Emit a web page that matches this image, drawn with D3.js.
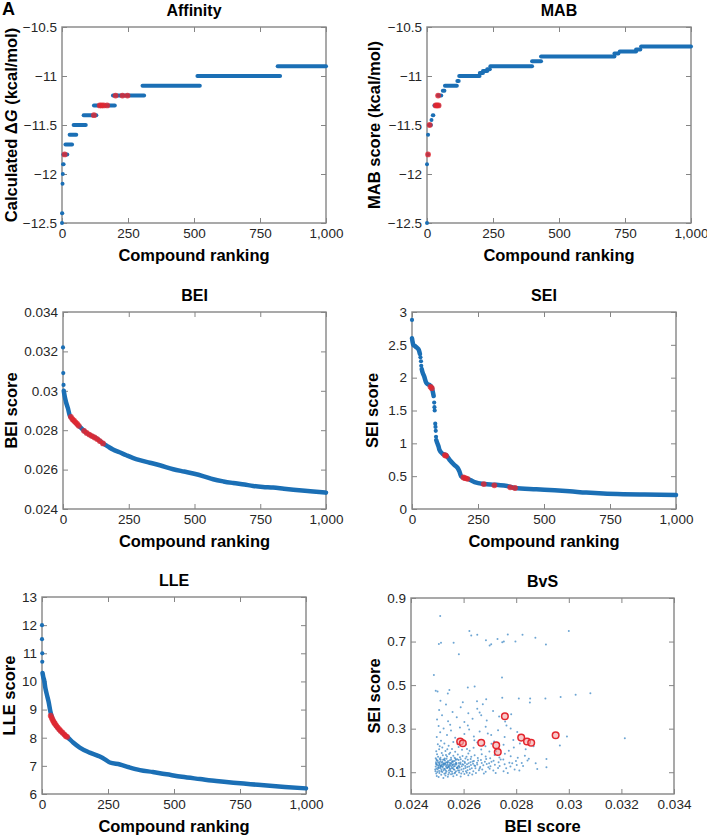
<!DOCTYPE html>
<html>
<head>
<meta charset="utf-8">
<script src="https://cdn.jsdelivr.net/npm/d3@7"></script>
<style>
  body { margin: 0; background: #fff; }
  text { font-family: Arial, "Liberation Sans", Helvetica, sans-serif; }
</style>
</head>
<body>
<div id="chart"></div>
<script>
// ---- tick values
var rankTicks = [0, 250, 500, 750, 1000];
var dgTicks = [-12.5, -12, -11.5, -11, -10.5];
var beiTicks = [0.024, 0.026, 0.028, 0.030, 0.032, 0.034];
var seiTicks = [0, 0.5, 1, 1.5, 2, 2.5, 3];
var lleTicks = [6, 7, 8, 9, 10, 11, 12, 13];
var bvsSeiTicks = [0.1, 0.3, 0.5, 0.7, 0.9];

// ---- Affinity: [fromRank, toRank, dG]
var affinitySteps = [
  [0, 0, -12.5], [0, 1, -12.4], [2, 2, -12.1], [3, 3, -12.0], [4, 6, -11.9],
  [5, 20, -11.8], [13, 38, -11.7], [29, 54, -11.6], [44, 90, -11.5],
  [82, 130, -11.4], [121, 200, -11.3], [193, 311, -11.2], [305, 522, -11.1],
  [513, 826, -11.0], [817, 1000, -10.9]
];
var affinityHits = [[10, -11.8], [121, -11.4], [143, -11.3], [150, -11.3], [158, -11.3],
  [171, -11.3], [203, -11.2], [229, -11.2], [248, -11.2]];

// ---- MAB: [fromRank, toRank, score]
var mabSteps = [
  [0, 0, -12.5], [0, 0, -11.9], [4, 4, -11.8], [4, 4, -11.6], [8, 15, -11.5],
  [17, 17, -11.45], [22, 24, -11.4], [28, 45, -11.3], [42, 54, -11.2],
  [60, 66, -11.15], [68, 113, -11.1], [115, 120, -11.05], [122, 199, -11.0],
  [200, 212, -10.97], [212, 228, -10.95], [228, 238, -10.93], [240, 398, -10.9],
  [398, 432, -10.85], [432, 710, -10.8], [710, 725, -10.77], [730, 792, -10.75],
  [792, 808, -10.73], [811, 1000, -10.7]
];
var mabHits = [[4, -11.8], [10, -11.5], [33, -11.3], [38, -11.3], [44, -11.3], [42, -11.2]];

// ---- BEI: [rank, score]
var beiCurve = [[3, 0.0300], [6, 0.02975], [12, 0.0294], [19, 0.0291], [25, 0.02877],
  [32, 0.02862], [38, 0.02852], [50, 0.02835], [63, 0.02818], [76, 0.02802],
  [89, 0.02787], [108, 0.02772], [127, 0.02758], [152, 0.02733], [170, 0.02718],
  [190, 0.02702], [215, 0.02688], [241, 0.02673], [265, 0.0266], [292, 0.02648],
  [330, 0.02635], [368, 0.02622], [419, 0.02602], [460, 0.0259], [495, 0.0258],
  [535, 0.02566], [571, 0.02551], [610, 0.0254], [647, 0.02532], [690, 0.02524],
  [723, 0.02517], [760, 0.02512], [799, 0.02509], [840, 0.02503], [876, 0.02498],
  [940, 0.0249], [1000, 0.02483]];
var beiDots = [[0, 0.0322], [1, 0.0309], [2, 0.0303]];
var beiHits = [[30, 0.02868], [36, 0.02856], [42, 0.02848], [48, 0.0284], [54, 0.02832],
  [60, 0.02822], [80, 0.02797], [90, 0.02786], [100, 0.02778], [110, 0.0277],
  [120, 0.02763], [130, 0.02755], [140, 0.02745], [152, 0.02733]];

// ---- SEI: [rank, score], null = gap between runs
var seiCurve = [[0, 2.6], [2, 2.55], [5, 2.5], [12, 2.48], [20, 2.45], [26, 2.42], [30, 2.36], null,
  [37, 2.13], [40, 2.08], [46, 2.02], [53, 1.93], [60, 1.9], [66, 1.89], [75, 1.85],
  [78, 1.8], [82, 1.72], null,
  [92, 1.05], [96, 1.0], [100, 0.96], [104, 0.9], [116, 0.84], [129, 0.82], [142, 0.75],
  [161, 0.67], [172, 0.63], [180, 0.57], [186, 0.5], [199, 0.47], [211, 0.46],
  [237, 0.41], [275, 0.38], [313, 0.37], [370, 0.34], [389, 0.32], [471, 0.30],
  [540, 0.285], [597, 0.27], [660, 0.25], [724, 0.235], [800, 0.225], [880, 0.22],
  [1000, 0.215]];
var seiDots = [[0, 2.88], [32, 2.31], [34, 2.25], [35, 2.18], [84, 1.62], [85, 1.55],
  [86, 1.5], [88, 1.3], [89, 1.25], [90, 1.19], [91, 1.1]];
var seiHits = [[70, 1.86], [75, 1.84], [125, 0.82], [129, 0.81], [195, 0.48], [202, 0.47],
  [210, 0.46], [272, 0.38], [312, 0.36], [372, 0.33], [390, 0.32]];

// ---- LLE: [rank, score]
var lleCurve = [[2, 10.3], [5, 10.15], [8, 10.05], [13, 9.75], [19, 9.51], [25, 9.28],
  [32, 8.92], [39, 8.69], [48, 8.51], [61, 8.33], [80, 8.15], [99, 8.0], [118, 7.83],
  [143, 7.65], [181, 7.47], [219, 7.33], [240, 7.22], [257, 7.12], [295, 7.05],
  [330, 6.95], [371, 6.85], [420, 6.78], [472, 6.70], [530, 6.61], [599, 6.53],
  [660, 6.46], [725, 6.40], [790, 6.35], [852, 6.30], [920, 6.25], [1000, 6.20]];
var lleDots = [[0, 12.0], [0, 11.5], [1, 11.0], [1, 10.7]];
var lleHits = [[33, 8.78], [37, 8.7], [41, 8.62], [45, 8.55], [49, 8.5], [54, 8.43],
  [59, 8.37], [65, 8.3], [71, 8.24], [78, 8.18], [85, 8.11], [90, 8.06], [95, 8.03]];

// ---- BvS scatter: [BEI, SEI]
var bvsPoints = [
  [0.02498,0.083],[0.02505,0.078],[0.02515,0.088],[0.02523,0.074],[0.02531,0.085],[0.02540,0.079],
  [0.02552,0.091],[0.02561,0.082],[0.02574,0.087],[0.02589,0.080],[0.02603,0.092],[0.02618,0.086],
  [0.02496,0.094],[0.02508,0.097],[0.02527,0.093],[0.02545,0.098],[0.02566,0.095],[0.02583,0.099],
  [0.02612,0.098],[0.02633,0.089],
  [0.02493,0.104],[0.02501,0.112],[0.02507,0.106],[0.02512,0.118],[0.02519,0.101],[0.02524,0.109],
  [0.02529,0.115],[0.02535,0.103],[0.02538,0.121],[0.02544,0.108],[0.02549,0.114],[0.02556,0.102],
  [0.02559,0.119],[0.02565,0.111],[0.02571,0.105],[0.02578,0.117],[0.02584,0.108],[0.02592,0.113],
  [0.02598,0.103],[0.02607,0.119],[0.02615,0.109],[0.02624,0.114],[0.02637,0.104],[0.02645,0.118],
  [0.02658,0.109],[0.02671,0.113],[0.02684,0.102],[0.02699,0.116],[0.02713,0.108],[0.02731,0.119],
  [0.02752,0.105],[0.02768,0.096],[0.02794,0.112],[0.02497,0.117],[0.02503,0.121],[0.02516,0.111],
  [0.02532,0.108],[0.02547,0.117],[0.02562,0.114],[0.02575,0.121],
  [0.02494,0.126],[0.02499,0.133],[0.02504,0.128],[0.02509,0.138],[0.02511,0.124],[0.02514,0.131],
  [0.02518,0.136],[0.02521,0.127],[0.02525,0.133],[0.02528,0.139],[0.02533,0.125],[0.02536,0.131],
  [0.02539,0.136],[0.02543,0.128],[0.02546,0.134],[0.02551,0.139],[0.02554,0.126],[0.02558,0.132],
  [0.02563,0.137],[0.02567,0.129],[0.02572,0.135],[0.02577,0.124],[0.02581,0.131],[0.02587,0.138],
  [0.02593,0.127],[0.02599,0.134],[0.02606,0.129],[0.02613,0.137],[0.02621,0.126],[0.02628,0.133],
  [0.02636,0.139],[0.02644,0.128],[0.02652,0.135],[0.02663,0.124],[0.02675,0.132],[0.02688,0.138],
  [0.02702,0.127],[0.02719,0.134],[0.02737,0.129],[0.02756,0.137],[0.02778,0.126],[0.02802,0.133],
  [0.02826,0.128],[0.02497,0.137],[0.02507,0.133],[0.02516,0.127],[0.02523,0.138],[0.02531,0.134],
  [0.02541,0.124],[0.02549,0.131],[0.02557,0.135],[0.02569,0.138],[0.02583,0.126],
  [0.02495,0.146],[0.02502,0.152],[0.02508,0.143],[0.02513,0.157],[0.02519,0.148],[0.02524,0.141],
  [0.02529,0.154],[0.02534,0.146],[0.02541,0.151],[0.02547,0.143],[0.02553,0.158],[0.02559,0.147],
  [0.02566,0.152],[0.02573,0.141],[0.02581,0.156],[0.02588,0.145],[0.02597,0.151],[0.02605,0.142],
  [0.02616,0.157],[0.02626,0.146],[0.02639,0.152],[0.02651,0.143],[0.02666,0.156],[0.02681,0.148],
  [0.02697,0.141],[0.02714,0.153],[0.02733,0.146],[0.02751,0.158],[0.02774,0.144],[0.02799,0.151],
  [0.02821,0.142],[0.02498,0.155],[0.02511,0.149],[0.02526,0.158],[0.02538,0.144],[0.02556,0.149],
  [0.02571,0.157],
  [0.02494,0.164],[0.02503,0.171],[0.02512,0.166],[0.02521,0.178],[0.02528,0.163],[0.02537,0.172],
  [0.02545,0.184],[0.02552,0.167],[0.02561,0.176],[0.02569,0.162],[0.02578,0.181],[0.02586,0.169],
  [0.02596,0.174],[0.02607,0.163],[0.02618,0.186],[0.02629,0.171],[0.02642,0.178],[0.02654,0.165],
  [0.02669,0.183],[0.02684,0.172],[0.02701,0.164],[0.02718,0.179],[0.02736,0.168],[0.02757,0.185],
  [0.02779,0.173],[0.02806,0.166],[0.02833,0.176],[0.02499,0.183],[0.02517,0.188],[0.02533,0.179],
  [0.02549,0.189],
  [0.02492,0.112],[0.02495,0.139],[0.02497,0.158],[0.02500,0.101],[0.02503,0.143],[0.02506,0.119],
  [0.02509,0.161],[0.02512,0.129],[0.02515,0.104],[0.02517,0.145],[0.02520,0.122],[0.02522,0.157],
  [0.02526,0.116],[0.02530,0.141],[0.02532,0.097],[0.02535,0.162],[0.02537,0.119],[0.02540,0.146],
  [0.02542,0.089],[0.02545,0.124],[0.02548,0.155],[0.02550,0.106],[0.02553,0.142],[0.02555,0.118],
  [0.02558,0.093],[0.02560,0.151],[0.02563,0.126],[0.02566,0.167],[0.02568,0.099],[0.02571,0.144],
  [0.02574,0.119],[0.02576,0.160],[0.02579,0.108],[0.02582,0.142],[0.02585,0.122],[0.02589,0.159],
  [0.02591,0.094],[0.02595,0.137],[0.02600,0.116],[0.02604,0.148],[0.02609,0.105],[0.02611,0.171],
  [0.02614,0.124],[0.02619,0.141],[0.02623,0.096],[0.02627,0.161],[0.02631,0.118],[0.02634,0.149],
  [0.02641,0.131],[0.02647,0.097],[0.02655,0.154],[0.02661,0.117],[0.02669,0.142],[0.02677,0.094],
  [0.02686,0.161],[0.02694,0.123],[0.02706,0.148],[0.02722,0.097],[0.02741,0.158],[0.02762,0.118],
  [0.02785,0.141],[0.02812,0.108],[0.02848,0.162],[0.02724,0.196],[0.02673,0.225],[0.02613,0.207],
  [0.02577,0.228],[0.02538,0.206],[0.02509,0.219],
  [0.02496,0.196],[0.02507,0.205],[0.02519,0.213],[0.02531,0.198],[0.02543,0.221],[0.02556,0.207],
  [0.02568,0.194],[0.02581,0.216],[0.02594,0.203],[0.02609,0.227],[0.02623,0.199],[0.02638,0.212],
  [0.02652,0.236],[0.02667,0.204],[0.02683,0.219],[0.02698,0.195],[0.02716,0.241],[0.02734,0.208],
  [0.02752,0.226],[0.02772,0.199],[0.02791,0.214],[0.02814,0.232],[0.02836,0.205],[0.02502,0.228],
  [0.02514,0.244],[0.02527,0.232],[0.02561,0.239],[0.02596,0.245],[0.02641,0.247],[0.02706,0.231],
  [0.02789,0.248],[0.02866,0.219],
  [0.02498,0.262],[0.02511,0.283],[0.02524,0.301],[0.02537,0.271],[0.02552,0.292],[0.02568,0.258],
  [0.02586,0.305],[0.02603,0.276],[0.02621,0.296],[0.02639,0.264],[0.02661,0.287],[0.02684,0.309],
  [0.02705,0.271],[0.02731,0.293],[0.02756,0.262],[0.02779,0.301],[0.02804,0.285],[0.02505,0.312],
  [0.02549,0.318],[0.02616,0.315],[0.02692,0.278],[0.02763,0.314],
  [0.02499,0.342],[0.02507,0.386],[0.02518,0.362],[0.02533,0.411],[0.02541,0.334],[0.02558,0.377],
  [0.02574,0.352],[0.02589,0.398],[0.02603,0.331],[0.02618,0.371],[0.02634,0.346],[0.02652,0.392],
  [0.02667,0.362],[0.02688,0.337],[0.02712,0.381],[0.02735,0.356],[0.02758,0.333],[0.02781,0.366],
  [0.02512,0.428],[0.02597,0.421],[0.02673,0.412],[0.02747,0.442],
  [0.02487,0.546],[0.02494,0.474],[0.02501,0.471],[0.02546,0.478],[0.0254,0.461],[0.02616,0.489],
  [0.02642,0.494],[0.02651,0.426],[0.02686,0.435],[0.02661,0.374],[0.0281,0.438],[0.02853,0.438],
  [0.02852,0.42],[0.02911,0.438],[0.02746,0.535],[0.02969,0.445],[0.03026,0.456],[0.03082,0.463],
  [0.02511,0.817],[0.02506,0.689],[0.02514,0.694],[0.02562,0.694],[0.02582,0.642],[0.02622,0.749],
  [0.02629,0.728],[0.02652,0.731],[0.02685,0.706],[0.02699,0.682],[0.02705,0.688],[0.02729,0.712],
  [0.02747,0.697],[0.02753,0.700],[0.02768,0.732],[0.02797,0.700],[0.02824,0.731],[0.02873,0.718],
  [0.02913,0.686],[0.0300,0.748],
  [0.03213,0.256],[0.02993,0.264],[0.02966,0.223],[0.02915,0.123],[0.02915,0.161],[0.02874,0.141],
  [0.0288,0.115],[0.02843,0.154]
];
var bvsHits = [[0.02587,0.241],[0.02597,0.233],[0.02667,0.235],[0.02724,0.224],[0.02730,0.193],
  [0.02757,0.357],[0.02819,0.259],[0.02841,0.241],[0.02857,0.235],[0.02950,0.270]];

// ---- drawing
var W = 707, H = 836;
var blue = "#1b6fb5", red = "#e3262e", frameColor = "#858585", ink = "#262626";

var svg = d3.select("#chart").append("svg")
    .attr("width", W)
    .attr("height", H);

var fmtRank = d3.format(",");
var fmtNum = function(d) { return d3.format("")(+d.toFixed(3)); };

function panel(o) {
  var x = d3.scaleLinear().domain(o.xDomain).range([o.l, o.r]);
  var y = d3.scaleLinear().domain(o.yDomain).range([o.b, o.t]);
  var g = svg.append("g");

  // inward ticks on all four sides
  var axes = [
    [d3.axisBottom(x).tickValues(o.xTicks).tickFormat(o.xFmt), "translate(0," + o.b + ")", true],
    [d3.axisTop(x).tickValues(o.xTicks).tickFormat(""), "translate(0," + o.t + ")", false],
    [d3.axisLeft(y).tickValues(o.yTicks).tickFormat(o.yFmt), "translate(" + o.l + ",0)", true],
    [d3.axisRight(y).tickValues(o.yTicks).tickFormat(""), "translate(" + o.r + ",0)", false]
  ];
  axes.forEach(function(a) {
    var ax = g.append("g")
        .attr("transform", a[1])
        .call(a[0].tickSizeInner(-5).tickSizeOuter(0).tickPadding(a[2] ? 5 : 0));
    ax.select(".domain").remove();
    ax.selectAll("line").attr("stroke", frameColor);
    ax.selectAll("text").attr("fill", ink).style("font-size", "13.5px");
  });

  g.append("rect")
      .attr("x", o.l).attr("y", o.t)
      .attr("width", o.r - o.l).attr("height", o.b - o.t)
      .attr("fill", "none")
      .attr("stroke", frameColor)
      .attr("stroke-width", 1.4);

  g.append("text")
      .attr("x", (o.l + o.r) / 2).attr("y", o.t - 11)
      .attr("text-anchor", "middle")
      .style("font-size", "16px").style("font-weight", "bold")
      .text(o.title);

  g.append("text")
      .attr("x", (o.l + o.r) / 2).attr("y", o.b + 38)
      .attr("text-anchor", "middle")
      .style("font-size", "16.5px").style("font-weight", "bold")
      .text(o.xLabel);

  var yl = g.append("text")
      .attr("transform", "translate(" + o.yLabelX + "," + (o.t + o.b) / 2 + ") rotate(-90)")
      .attr("text-anchor", "middle")
      .attr("dominant-baseline", "central")
      .style("font-size", "16.5px").style("font-weight", "bold");
  o.yLabel(yl);

  var plot = g.append("g");
  return { g: plot, x: x, y: y };
}

function simpleLabel(s) { return function(t) { t.text(s); }; }

function drawSteps(p, steps) {
  p.g.selectAll(".step").data(steps.filter(function(d) { return d[0] !== d[1]; }))
    .enter().append("line")
      .attr("x1", function(d) { return p.x(d[0]); })
      .attr("x2", function(d) { return p.x(d[1]); })
      .attr("y1", function(d) { return p.y(d[2]); })
      .attr("y2", function(d) { return p.y(d[2]); })
      .attr("stroke", blue).attr("stroke-width", 4).attr("stroke-linecap", "round");
  p.g.selectAll(".stepdot").data(steps.filter(function(d) { return d[0] === d[1]; }))
    .enter().append("circle")
      .attr("cx", function(d) { return p.x(d[0]); })
      .attr("cy", function(d) { return p.y(d[2]); })
      .attr("r", 2).attr("fill", blue);
}

function drawCurve(p, curve, dots) {
  var line = d3.line()
      .defined(function(d) { return d !== null; })
      .x(function(d) { return p.x(d[0]); })
      .y(function(d) { return p.y(d[1]); })
      .curve(d3.curveMonotoneX);
  p.g.append("path").datum(curve)
      .attr("d", line)
      .attr("fill", "none")
      .attr("stroke", blue).attr("stroke-width", 4.5)
      .attr("stroke-linecap", "round").attr("stroke-linejoin", "round");
  p.g.selectAll(".dot").data(dots).enter().append("circle")
      .attr("cx", function(d) { return p.x(d[0]); })
      .attr("cy", function(d) { return p.y(d[1]); })
      .attr("r", 2.1).attr("fill", blue);
}

function drawHits(p, hits) {
  p.g.selectAll(".hit").data(hits).enter().append("circle")
      .attr("cx", function(d) { return p.x(d[0]); })
      .attr("cy", function(d) { return p.y(d[1]); })
      .attr("r", 2.9)
      .attr("fill", red).attr("fill-opacity", 0.8);
}

// Affinity
var pA = panel({ l: 62, r: 326, t: 27, b: 223, xDomain: [0, 1000], yDomain: [-12.5, -10.5],
  xTicks: rankTicks, yTicks: dgTicks, xFmt: fmtRank, yFmt: fmtNum, title: "Affinity",
  xLabel: "Compound ranking", yLabelX: 11,
  yLabel: function(t) {
    t.append("tspan").text("Calculated \u0394");
    t.append("tspan").style("font-style", "italic").text("G");
    t.append("tspan").text(" (kcal/mol)");
  } });
drawSteps(pA, affinitySteps);
drawHits(pA, affinityHits);

// MAB
var pM = panel({ l: 427, r: 691, t: 27, b: 223, xDomain: [0, 1000], yDomain: [-12.5, -10.5],
  xTicks: rankTicks, yTicks: dgTicks, xFmt: fmtRank, yFmt: fmtNum, title: "MAB",
  xLabel: "Compound ranking", yLabelX: 374, yLabel: simpleLabel("MAB score (kcal/mol)") });
drawSteps(pM, mabSteps);
drawHits(pM, mabHits);

// BEI
var pB = panel({ l: 63, r: 326, t: 312, b: 509, xDomain: [0, 1000], yDomain: [0.024, 0.034],
  xTicks: rankTicks, yTicks: beiTicks, xFmt: fmtRank, yFmt: fmtNum, title: "BEI",
  xLabel: "Compound ranking", yLabelX: 11, yLabel: simpleLabel("BEI score") });
drawCurve(pB, beiCurve, beiDots);
drawHits(pB, beiHits);

// SEI
var pS = panel({ l: 412, r: 676, t: 312, b: 509, xDomain: [0, 1000], yDomain: [0, 3],
  xTicks: rankTicks, yTicks: seiTicks, xFmt: fmtRank, yFmt: fmtNum, title: "SEI",
  xLabel: "Compound ranking", yLabelX: 372, yLabel: simpleLabel("SEI score") });
drawCurve(pS, seiCurve, seiDots);
drawHits(pS, seiHits);

// LLE
var pL = panel({ l: 42, r: 306, t: 597, b: 794, xDomain: [0, 1000], yDomain: [6, 13],
  xTicks: rankTicks, yTicks: lleTicks, xFmt: fmtRank, yFmt: fmtNum, title: "LLE",
  xLabel: "Compound ranking", yLabelX: 9, yLabel: simpleLabel("LLE score") });
drawCurve(pL, lleCurve, lleDots);
drawHits(pL, lleHits);

// BvS
var pV = panel({ l: 411, r: 674, t: 598, b: 794, xDomain: [0.024, 0.034], yDomain: [0, 0.9],
  xTicks: beiTicks, yTicks: bvsSeiTicks, xFmt: fmtNum, yFmt: fmtNum, title: "BvS",
  xLabel: "BEI score", yLabelX: 374, yLabel: simpleLabel("SEI score") });
pV.g.selectAll(".pt").data(bvsPoints).enter().append("circle")
    .attr("cx", function(d) { return pV.x(d[0]); })
    .attr("cy", function(d) { return pV.y(d[1]); })
    .attr("r", 1)
    .attr("fill", "#2f7fc1").attr("fill-opacity", 0.7);
pV.g.selectAll(".hit").data(bvsHits).enter().append("circle")
    .attr("cx", function(d) { return pV.x(d[0]); })
    .attr("cy", function(d) { return pV.y(d[1]); })
    .attr("r", 3.3)
    .attr("fill", "#f3a5a5").attr("fill-opacity", 0.6)
    .attr("stroke", red).attr("stroke-width", 1.5);

// panel letter
svg.append("text")
    .attr("x", 2).attr("y", 15)
    .style("font-size", "18px").style("font-weight", "bold")
    .text("A");
</script>
</body>
</html>
